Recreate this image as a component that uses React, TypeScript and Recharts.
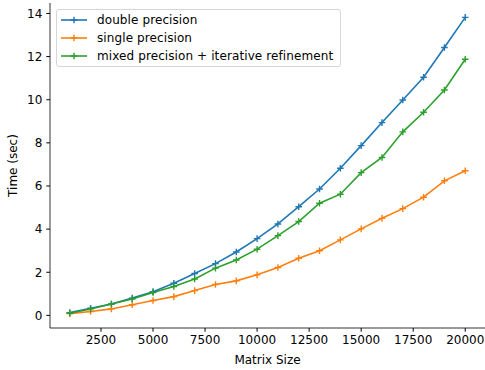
import { LineChart, Line, XAxis, YAxis, Label } from 'recharts';

const sizes = [1000, 2000, 3000, 4000, 5000, 6000, 7000, 8000, 9000, 10000,
  11000, 12000, 13000, 14000, 15000, 16000, 17000, 18000, 19000, 20000];

const doubleTimes = [0.13, 0.33, 0.53, 0.8, 1.1, 1.49, 1.94, 2.4, 2.94, 3.56,
  4.24, 5.04, 5.86, 6.82, 7.87, 8.94, 9.99, 11.04, 12.42, 13.82];

const singleTimes = [0.08, 0.18, 0.3, 0.49, 0.69, 0.87, 1.15, 1.43, 1.6, 1.88,
  2.22, 2.65, 3.0, 3.5, 4.01, 4.5, 4.95, 5.48, 6.24, 6.71];

const mixedTimes = [0.1, 0.3, 0.53, 0.76, 1.06, 1.34, 1.69, 2.19, 2.57, 3.07,
  3.7, 4.35, 5.2, 5.62, 6.62, 7.32, 8.51, 9.42, 10.45, 11.88];

const xTicks = [2500, 5000, 7500, 10000, 12500, 15000, 17500, 20000];
const yTicks = [0, 2, 4, 6, 8, 10, 12, 14];

const series = [
  { key: 'double', name: 'double precision', color: '#1f77b4' },
  { key: 'single', name: 'single precision', color: '#ff7f0e' },
  { key: 'mixed', name: 'mixed precision + iterative refinement', color: '#2ca02c' },
];

const data = sizes.map((n, i) => ({
  n,
  double: doubleTimes[i],
  single: singleTimes[i],
  mixed: mixedTimes[i],
}));

const FONT = '"DejaVu Sans", sans-serif';
const FS = 12;

const PlusDot = (props: any) => {
  const { cx, cy, stroke } = props;
  if (cx == null || cy == null) return null;
  const h = 3.3;
  return (
    <path
      d={`M${cx - h},${cy}H${cx + h}M${cx},${cy - h}V${cy + h}`}
      stroke={stroke}
      strokeWidth={1.4}
      fill="none"
    />
  );
};

// legend drawn over the plot, like matplotlib's upper-left box
const LegendBox = () => (
  <div
    style={{
      position: 'absolute',
      left: 56,
      top: 9,
      border: '1px solid #d6d6d6',
      borderRadius: 3,
      background: 'rgba(255,255,255,0.8)',
      padding: '1px 7px 1px 3px',
      fontFamily: FONT,
      fontSize: FS,
      color: '#000',
      lineHeight: '18px',
    }}
  >
    {series.map(s => (
      <div key={s.key} style={{ display: 'flex', alignItems: 'center' }}>
        <svg width={28} height={12} style={{ marginRight: 9 }}>
          <line x1={1} y1={6} x2={27} y2={6} stroke={s.color} strokeWidth={1.6} />
          <path d="M14,2.7V9.3M10.7,6H17.3" stroke={s.color} strokeWidth={1.4} />
        </svg>
        <span style={{ letterSpacing: 0.1 }}>{s.name}</span>
      </div>
    ))}
  </div>
);

export default function App() {
  const tick = { fill: '#000', fontSize: FS, fontFamily: FONT };
  return (
    <div style={{ position: 'absolute', left: 0, top: 0, width: 485, height: 370, background: '#fff' }}>
      <LineChart width={485} height={370} data={data} margin={{ top: 3, right: 0, bottom: 0, left: 0 }}>
        <XAxis
          dataKey="n"
          type="number"
          domain={[50, 20950]}
          ticks={xTicks}
          tick={{ ...tick, dy: 2 }}
          tickSize={3.7}
          tickLine={{ stroke: '#000' }}
          axisLine={{ stroke: '#000', strokeWidth: 0.8 }}
          height={42}
          interval={0}
        >
          <Label value="Matrix Size" position="insideBottom" offset={6} style={{ fontFamily: FONT, fontSize: FS, fill: '#000' }} />
        </XAxis>
        <XAxis
          xAxisId="top"
          orientation="top"
          dataKey="n"
          type="number"
          domain={[50, 20950]}
          tick={false}
          tickLine={false}
          axisLine={{ stroke: '#000', strokeWidth: 0.8 }}
          height={0}
        />
        <YAxis
          type="number"
          domain={[-0.585, 14.485]}
          ticks={yTicks}
          tick={{ ...tick, dx: -2 }}
          tickSize={3.7}
          tickLine={{ stroke: '#000' }}
          axisLine={{ stroke: '#000', strokeWidth: 0.8 }}
          width={50}
          interval={0}
        >
          <Label value="Time (sec)" angle={-90} position="insideLeft" offset={13} style={{ fontFamily: FONT, fontSize: FS, fill: '#000', textAnchor: 'middle' }} />
        </YAxis>
        {series.map(s => (
          <Line
            key={s.key}
            dataKey={s.key}
            name={s.name}
            stroke={s.color}
            strokeWidth={1.6}
            dot={<PlusDot />}
            activeDot={false}
            isAnimationActive={false}
            type="linear"
          />
        ))}
      </LineChart>
      <LegendBox />
    </div>
  );
}
